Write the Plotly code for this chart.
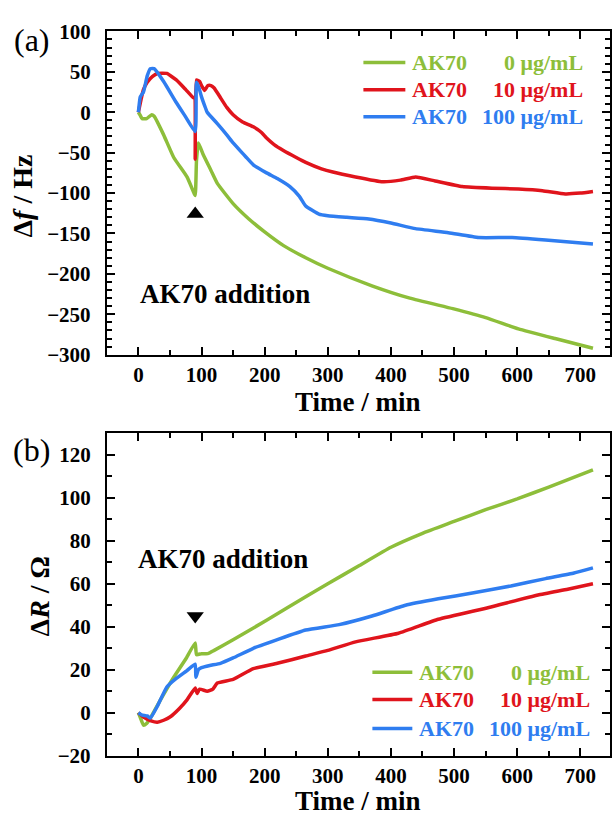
import plotly.graph_objects as go

# ---------------- data ----------------
# Panel (a): frequency shift Δf / Hz
t_f_0 = [0, 3, 6, 13, 21, 25, 40, 56, 77, 87, 90, 92, 95, 103, 115, 125, 150, 175, 200, 230, 265,
         300, 371, 430, 498, 550, 602, 660, 720]
f_0 = [0, -4, -8, -8, -3, -5, -28, -56, -80, -98, -103, -60, -38, -53, -72, -88, -113, -132, -148, -165, -180,
       -193, -215, -230, -243, -254, -268, -280, -292]

t_f_10 = [0, 4, 8, 14, 22, 30, 45, 60, 75, 87, 89, 90, 92, 97, 100, 105, 110, 115, 120, 130, 140, 150,
          165, 182, 195, 203, 215, 229, 250, 265, 290, 308, 344, 387, 415, 439, 470, 513, 560, 602, 640,
          676, 700, 720]
f_10 = [0, 15, 28, 37, 44, 48, 48, 40, 28, 18, 18, -58, 40, 38, 33, 27, 33, 33, 30, 18, 6, -3,
        -12, -18, -25, -32, -40, -47, -56, -62, -70, -74, -80, -86, -84, -80, -85, -92, -94, -95, -97,
        -101, -100, -98]

t_f_100 = [0, 3, 8, 14, 19, 25, 40, 60, 75, 90, 92, 96, 100, 105, 109, 125, 140, 150, 164, 170, 182,
           203, 220, 240, 255, 265, 286, 300, 330, 365, 400, 439, 491, 539, 592, 645, 720]
f_100 = [0, 19, 25, 45, 54, 54, 38, 12, -6, -24, 37, 30, 19, 8, 0, -14, -28, -38, -50, -55, -65,
         -75, -82, -92, -104, -116, -126, -128, -130, -132, -137, -144, -149, -155, -155, -158, -163]

# Panel (b): resistance shift ΔR / Ω
t_r_0 = [0, 4, 8, 13, 20, 35, 56, 75, 90, 92, 100, 110, 120, 150, 203, 265, 300, 350, 400, 450, 500,
         550, 600, 650, 720]
r_0 = [0, -3, -5.8, -5, -2, 6, 16.5, 25, 32.5, 27, 27.5, 27.5, 29, 34, 43, 54, 60, 68.5, 77, 83.5, 89,
       94.5, 99.5, 105, 113]

t_r_10 = [0, 8, 20, 30, 40, 50, 65, 77, 90, 93, 97, 109, 118, 125, 150, 182, 220, 265, 300, 344, 412,
          475, 555, 633, 680, 720]
r_10 = [0, -2, -3.8, -4.4, -3.5, -2, 2, 6, 11.5, 9, 11, 10, 11, 13.8, 15.5, 20.5, 23, 26.4, 29, 33, 37,
        43.5, 49, 54.8, 57.5, 60]

t_r_100 = [0, 5, 14, 19, 30, 45, 60, 77, 90, 91, 95, 100, 113, 130, 150, 182, 220, 265, 318, 370, 423,
           475, 529, 590, 645, 690, 720]
r_100 = [0, -1, -1.5, -2.5, 3, 12, 16, 19.6, 22.6, 16.5, 20, 21, 22, 23, 25.5, 30, 34, 38.5, 41, 45, 50,
         53, 55.7, 59, 62.4, 65, 67.4]

series_names = ["AK70", "AK70", "AK70"]
series_conc = ["0 μg/mL", "10 μg/mL", "100 μg/mL"]
colors = ["#8DBE3A", "#E0141C", "#2F7DF0"]

# markers for the addition point
add_t = [90]
add_f = [-126]
add_r = [45]

FONT = "Liberation Serif, Times New Roman, serif"
W, H = 612, 825

def px(x):
    return x / W

def py(y):
    return 1 - y / H

fig = go.Figure()

for t, v, c in zip([t_f_0, t_f_10, t_f_100], [f_0, f_10, f_100], colors):
    fig.add_trace(go.Scatter(x=t, y=v, mode="lines", line=dict(color=c, width=3.5, shape="spline", smoothing=0.4),
                             xaxis="x", yaxis="y", showlegend=False))
for t, v, c in zip([t_r_0, t_r_10, t_r_100], [r_0, r_10, r_100], colors):
    fig.add_trace(go.Scatter(x=t, y=v, mode="lines", line=dict(color=c, width=3.5, shape="spline", smoothing=0.4),
                             xaxis="x2", yaxis="y2", showlegend=False))

fig.add_trace(go.Scatter(x=add_t, y=add_f, mode="markers", xaxis="x", yaxis="y", showlegend=False,
                         marker=dict(symbol="triangle-up", size=15, color="black")))
fig.add_trace(go.Scatter(x=add_t, y=add_r, mode="markers", xaxis="x2", yaxis="y2", showlegend=False,
                         marker=dict(symbol="triangle-down", size=15, color="black")))

tickfont = dict(family=FONT, size=21, color="black", weight="bold")
common_axis = dict(showline=True, linewidth=2, linecolor="black", mirror="ticks",
                   ticks="inside", ticklen=8, tickwidth=2, tickcolor="black",
                   showgrid=False, zeroline=False, tickfont=tickfont)
xminor = dict(dtick=50, ticks="inside", ticklen=5, tickwidth=2, tickcolor="black")
yminor = dict(dtick=10, ticks="inside", ticklen=5, tickwidth=2, tickcolor="black")

xdom = [px(107), px(611)]
fig.update_layout(
    width=W, height=H, margin=dict(l=0, r=0, t=0, b=0),
    paper_bgcolor="white", plot_bgcolor="white",
    xaxis=dict(domain=xdom, anchor="y", range=[-50, 747], tickmode="linear", tick0=0, dtick=100,
               minor=xminor, **common_axis),
    yaxis=dict(domain=[py(353), py(20)], anchor="x", range=[-300, 100], tickmode="linear", tick0=0,
               dtick=50, minor=yminor, ticklabelstandoff=10, **common_axis),
    xaxis2=dict(domain=xdom, anchor="y2", range=[-50, 747], tickmode="linear", tick0=0, dtick=100,
                minor=xminor, **common_axis),
    yaxis2=dict(domain=[py(766), py(434)], anchor="x2", range=[-20, 130], tickmode="linear", tick0=0,
                dtick=20, minor=yminor, ticklabelstandoff=10, **common_axis),
)

ann = []
def text(x, y, s, size, xanchor="center", color="black", bold=True, angle=0):
    ann.append(dict(x=px(x), y=py(y), xref="paper", yref="paper", text=s, showarrow=False,
                    xanchor=xanchor, yanchor="middle", textangle=angle,
                    font=dict(family=FONT, size=size, color=color, weight="bold" if bold else "normal")))

# axis titles
text(359, 402, "Time / min", 27)
text(359, 813, "Time / min", 27)
text(23, 189, "Δ<i>f</i> / Hz", 28, angle=-90)
text(40, 602, "Δ<i>R</i> / Ω", 28, angle=-90)
# panel labels
text(32, 29, "(a)", 32, bold=False)
text(32, 451, "(b)", 32, bold=False)
# addition labels
text(138, 290, "AK70 addition", 27, xanchor="left")
text(136, 563, "AK70 addition", 27, xanchor="left")

shapes = []
def legend(rows, x0, x1, xt, xr):
    for yy, name, conc, c in zip(rows, series_names, series_conc, colors):
        shapes.append(dict(type="line", xref="paper", yref="paper", x0=px(x0), x1=px(x1),
                           y0=py(yy), y1=py(yy), line=dict(color=c, width=3.5)))
        text(xt, yy, name, 22, xanchor="left", color=c)
        text(xr, yy, conc, 22, xanchor="right", color=c)

legend([52, 80, 108], 364, 406, 411, 586)
legend([680, 708, 738], 373, 413, 418, 593)

fig.update_layout(annotations=ann, shapes=shapes)
fig.write_html("out.html", config={"displayModeBar": False},
               post_script="document.body.style.margin='0';document.body.style.overflow='hidden';")
